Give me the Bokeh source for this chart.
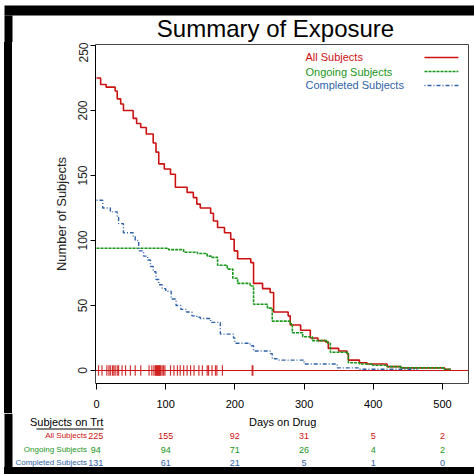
from bokeh.plotting import figure
from bokeh.models import Range1d, FixedTicker, Span, Div
from bokeh.layouts import column, row
from bokeh.core.properties import value
from bokeh.embed import file_html
from bokeh.resources import INLINE

# ---------------- data ----------------
all_days = [0, 6, 14, 27, 30, 35, 39, 53, 58, 64, 72, 82, 86, 90, 98, 107, 114, 131, 140, 145, 150,
            165, 169, 175, 185, 194, 199, 204, 223, 227, 240, 251, 256, 277, 280, 295, 309, 320, 331,
            335, 350, 362, 364, 380, 391, 420, 440, 503, 512]
all_n = [225, 220, 218, 215, 209, 205, 200, 194, 190, 187, 182, 175, 168, 159, 155, 151, 141, 137, 133, 128, 125,
         121, 115, 110, 106, 101, 92, 86, 83, 67, 63, 60, 45, 42, 35, 31, 25, 23, 22,
         17, 15, 13, 8, 6, 5, 3, 2, 1, 1]

ong_days = [0, 104, 126, 146, 160, 167, 175, 189, 197, 204, 222, 227, 247, 254, 280, 283, 298, 312, 334,
            338, 362, 364, 380, 399, 420, 440, 503, 512]
ong_n = [94, 93, 91, 90, 88, 87, 81, 78, 71, 67, 65, 51, 48, 38, 36, 29, 26, 23, 21,
         14, 13, 6, 5, 4, 3, 2, 1, 1]

comp_days = [0, 9, 20, 30, 32, 39, 53, 56, 61, 68, 74, 78, 82, 86, 90, 95, 100, 108, 115, 122, 130, 138,
             145, 150, 165, 179, 198, 200, 222, 227, 251, 254, 261, 300, 348, 380, 464]
comp_n = [131, 125, 122, 118, 113, 106, 103, 100, 92, 88, 85, 80, 76, 70, 66, 63, 61, 55, 50, 47, 45, 42,
          41, 40, 37, 28, 25, 21, 19, 15, 13, 9, 8, 5, 2, 1, 1]

censor_days = [3, 8, 15, 18, 20, 23, 25, 27, 30, 32, 37, 42, 49, 56, 64, 76, 80, 83, 85, 86, 87, 88, 89,
               90, 91, 92, 93, 95, 97, 99, 107, 112, 117, 121, 126, 131, 136, 141, 148, 153, 160, 162,
               167, 172, 174, 182, 225, 226]

series_names = ["All Subjects", "Ongoing Subjects", "Completed Subjects"]
table_days = [0, 100, 200, 300, 400, 500]
table_all = [225, 155, 92, 31, 5, 2]
table_ong = [94, 94, 71, 26, 4, 2]
table_comp = [131, 61, 21, 5, 1, 0]
table_rows = [table_all, table_ong, table_comp]

x_ticks = [0, 100, 200, 300, 400, 500]
y_ticks = [0, 50, 100, 150, 200, 250]

# ---------------- style ----------------
RED = "#CC1111"
GREEN = "#1A961A"
BLUE = "#2F63A8"
COLS = [RED, GREEN, BLUE]
SANS = "Liberation Sans"
DASH_G = "3 1"
DASH_B = "1 2 4 2"
DASHES = ["solid", DASH_G, DASH_B]

X0, X1 = -1.4, 537.6          # main x range (days)
FRAME_L, FRAME_R = 83, 456    # frame edges inside the 462-wide main figure
PAGE_L = 95                   # frame left edge on the page
SCALE = (FRAME_R - FRAME_L) / (X1 - X0)

# ---------------- header (title + black band) ----------------
hdr = figure(width=474, height=42, output_backend="svg", toolbar_location=None, title=None,
             x_range=Range1d(0, 474), y_range=Range1d(42, 0),
             min_border=0, min_border_left=0, min_border_right=0, min_border_top=0, min_border_bottom=0)
hdr.axis.visible = False
hdr.grid.visible = False
hdr.outline_line_color = None
hdr.quad(left=[4], right=[474], top=[5], bottom=[15], fill_color="black", line_color=None)
hdr.quad(left=[4], right=[12], top=[15], bottom=[42], fill_color="black", line_color=None)
hdr.text(x=[275], y=[28], text=["Summary of Exposure"], text_font=value(SANS),
         text_font_size="24px", text_color="black", text_align="center", text_baseline="middle")

# ---------------- main plot ----------------
p = figure(width=462, height=371, output_backend="svg", toolbar_location=None, title=None,
           x_range=Range1d(X0, X1), y_range=Range1d(-10, 250.8),
           min_border_left=FRAME_L, min_border_right=462 - FRAME_R, min_border_top=2, min_border_bottom=30)
p.xgrid.visible = False
p.ygrid.visible = False
p.outline_line_color = "#444444"
p.outline_line_width = 1

xa = p.xaxis[0]
xa.ticker = FixedTicker(ticks=x_ticks)
xa.bounds = (0, 500)
xa.minor_tick_line_color = None
xa.major_tick_in = 0
xa.major_tick_out = 6
xa.major_label_standoff = 10
xa.major_label_text_font = SANS
xa.major_label_text_font_size = "11px"
xa.major_label_text_color = "black"
xa.axis_line_color = "black"

ya = p.yaxis[0]
ya.ticker = FixedTicker(ticks=y_ticks)
ya.bounds = (0, 250)
ya.minor_tick_line_color = None
ya.major_tick_in = 0
ya.major_tick_out = 5
ya.major_label_orientation = "vertical"
ya.major_label_standoff = 3
ya.major_label_text_font = SANS
ya.major_label_text_font_size = "12px"
ya.major_label_text_color = "#222222"
ya.axis_label = "Number of Subjects"
ya.axis_label_text_font = SANS
ya.axis_label_text_font_size = "13px"
ya.axis_label_text_font_style = "normal"
ya.axis_label_text_color = "#222222"
ya.axis_label_standoff = 7
ya.axis_line_color = "black"

p.add_layout(Span(location=0, dimension="width", line_color=RED, line_width=1))
p.segment(x0=censor_days, y0=[-4] * len(censor_days), x1=censor_days, y1=[4] * len(censor_days),
          line_color=RED, line_width=1.2, line_alpha=0.85)

p.step(all_days, all_n, mode="after", line_color=RED, line_width=1.6)
p.step(ong_days, ong_n, mode="after", line_color=GREEN, line_width=1.6, line_dash=DASH_G)
p.step(comp_days, comp_n, mode="after", line_color=BLUE, line_width=1.4, line_dash=DASH_B)

leg_y = [240.8, 230.0, 219.3]
p.text(x=[302] * 3, y=leg_y, text=series_names, text_color=COLS, text_font=value(SANS),
       text_font_size="11px", text_baseline="middle", text_align="left")
for yy, c, dsh in zip(leg_y, COLS, DASHES):
    p.line([474, 523], [yy, yy], line_color=c, line_width=1.6, line_dash=dsh)

# ---------------- table below (same day scale, full page width) ----------------
t = figure(width=474, height=54, output_backend="svg", toolbar_location=None, title=None,
           x_range=Range1d(X0 - PAGE_L / SCALE, X0 + (474 - PAGE_L) / SCALE),
           y_range=Range1d(467, 413),
           min_border=0, min_border_left=0, min_border_right=0, min_border_top=0, min_border_bottom=0)
t.axis.visible = False
t.grid.visible = False
t.outline_line_color = None


def day_at(px):
    return X0 + (px - PAGE_L) / SCALE


t.quad(left=[day_at(4)], right=[day_at(12)], top=[413], bottom=[467], fill_color="black", line_color=None)
t.text(x=[269], y=[421], text=["Days on Drug"], text_font=value(SANS), text_font_size="11px",
       text_color="black", text_align="center", text_baseline="middle")
t.text(x=[day_at(103)], y=[421], text=["Subjects on Trt"], text_font=value(SANS), text_font_size="11px",
       text_color="black", text_align="right", text_baseline="middle")
t.segment(x0=[day_at(36)], y0=[428.5], x1=[day_at(103)], y1=[428.5], line_color="black", line_width=1)

row_y = [435, 449, 462]
for name, yy, c, vals in zip(series_names, row_y, COLS, table_rows):
    t.text(x=[day_at(86.5)], y=[yy], text=[name], text_color=c, text_font=value(SANS),
           text_font_size="8px", text_align="right", text_baseline="middle")
    t.text(x=[d - (1 if d == 0 else 0) for d in table_days], y=[yy] * len(vals),
           text=[str(v) for v in vals], text_color=c, text_font=value(SANS),
           text_font_size="9px", text_align="center", text_baseline="middle")

left_strip = Div(text="", width=12, height=371, margin=0,
                 styles={"background": "linear-gradient(90deg, #fff 0px, #fff 4px, #000 4px, #000 12px)"})
bottom_strip = Div(text="", width=474, height=7, margin=0,
                   styles={"background": "linear-gradient(90deg, #fff 0px, #fff 4px, #000 4px, #000 474px)"})

layout = column(hdr, row(left_strip, p, spacing=0), t, bottom_strip, spacing=0)

open("out.html", "w").write(file_html(layout, INLINE))
